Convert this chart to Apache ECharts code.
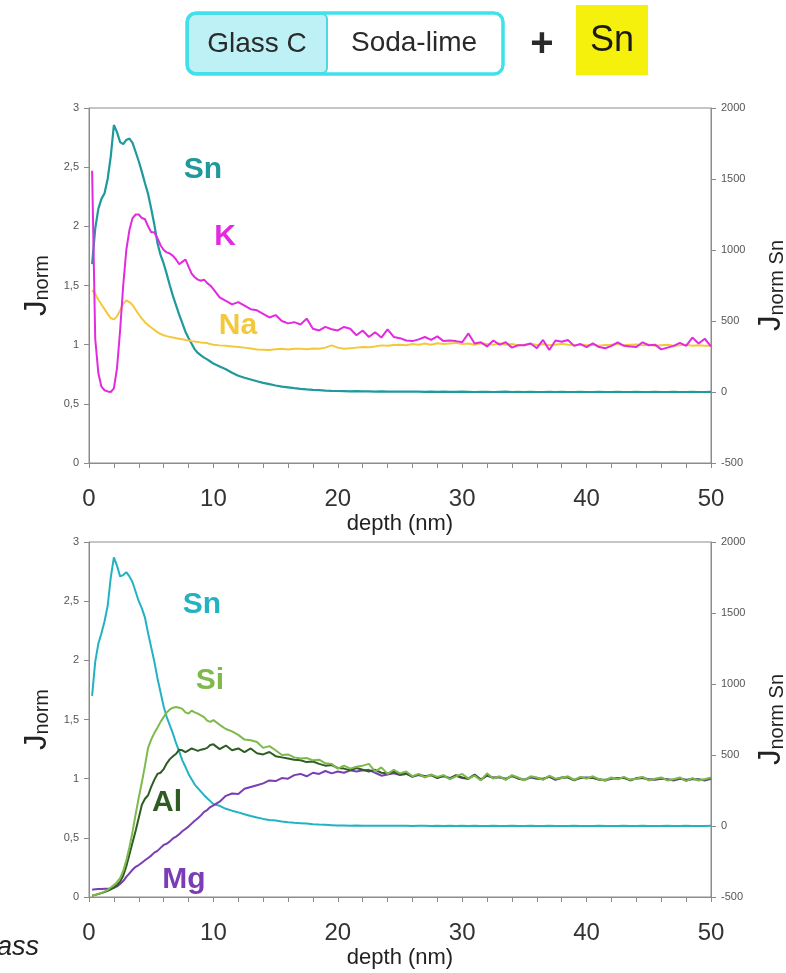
<!DOCTYPE html>
<html><head><meta charset="utf-8">
<script src="https://cdn.jsdelivr.net/npm/echarts@6/dist/echarts.min.js"></script>
<style>html,body{margin:0;padding:0;background:#fff;overflow:hidden}#c{width:786px;height:973px}</style>
</head><body><div id="c"></div>
<script>
// ---- data ----
const depth = [
0.25,0.5,0.75,1,1.25,1.5,1.75,2,2.25,2.5,
2.75,3,3.25,3.5,3.75,4,4.25,4.5,4.75,5,
5.25,5.5,5.75,6,6.25,6.5,6.75,7,7.25,7.5,
7.75,8,8.25,8.5,8.75,9,9.25,9.5,9.75,10,
10.5,11,11.5,12,12.5,13,13.5,14,14.5,15,
15.5,16,16.5,17,17.5,18,18.5,19,19.5,20,
20.5,21,21.5,22,22.5,23,23.5,24,24.5,25,
25.5,26,26.5,27,27.5,28,28.5,29,29.5,30,
30.5,31,31.5,32,32.5,33,33.5,34,34.5,35,
35.5,36,36.5,37,37.5,38,38.5,39,39.5,40,
40.5,41,41.5,42,42.5,43,43.5,44,44.5,45,
45.5,46,46.5,47,47.5,48,48.5,49,49.5,50];

// top panel (Soda-lime + Sn): Sn on right axis, K and Na on left axis
const snTop = [
900,1150,1290,1360,1400,1500,1660,1880,1830,1760,
1745,1775,1785,1755,1690,1625,1550,1470,1395,1290,
1180,1050,965,905,830,750,675,610,545,485,
425,380,340,300,275,258,242,230,215,200,
180,160,135,115,100,88,76,64,55,46,
38,33,27,22,18,15,13,10,8,7,
6,5,6,4,4,3,4,3,2,3,
2,2,3,1,2,1,2,1,1,2,
1,0,1,1,0,1,2,0,1,0,
1,0,0,1,0,1,0,0,1,0,
0,1,0,0,1,0,0,1,0,0,
1,0,0,1,0,0,1,0,0,1];
const kTop = [
2.47,1.05,0.76,0.645,0.615,0.605,0.60,0.63,0.80,1.12,
1.50,1.80,1.97,2.07,2.10,2.10,2.07,2.06,2.00,1.95,
1.95,1.90,1.84,1.80,1.78,1.77,1.75,1.72,1.68,1.70,
1.72,1.66,1.60,1.57,1.55,1.54,1.55,1.52,1.50,1.47,
1.40,1.37,1.34,1.36,1.33,1.30,1.29,1.26,1.23,1.25,
1.20,1.18,1.19,1.17,1.22,1.135,1.12,1.15,1.13,1.12,
1.15,1.135,1.08,1.12,1.065,1.105,1.06,1.13,1.065,1.055,
1.035,1.03,1.045,1.065,1.04,1.07,1.03,1.035,1.03,1.02,
1.095,1.01,1.02,0.985,1.035,1.0,1.02,0.975,0.995,0.995,
1.01,0.97,1.04,0.955,1.035,1.025,1.04,0.99,1.005,0.98,
1.01,0.98,0.97,0.99,1.02,0.99,0.985,0.98,1.02,0.995,
1.0,0.96,0.975,0.99,1.015,0.99,1.06,1.01,1.05,0.985];
const naTop = [
1.46,1.43,1.38,1.34,1.30,1.26,1.225,1.213,1.24,1.29,
1.345,1.374,1.36,1.335,1.295,1.255,1.22,1.19,1.165,1.145,
1.125,1.105,1.09,1.08,1.072,1.066,1.06,1.055,1.05,1.045,
1.04,1.036,1.03,1.026,1.022,1.018,1.016,1.014,1.005,1.0,
0.994,0.99,0.985,0.98,0.975,0.968,0.96,0.958,0.955,0.962,
0.966,0.96,0.965,0.966,0.962,0.968,0.966,0.975,0.994,0.975,
0.966,0.97,0.975,0.98,0.978,0.985,0.994,0.99,0.998,1.0,
0.995,1.005,1.0,1.01,1.0,1.012,1.005,1.01,1.015,1.005,
1.01,1.0,1.012,1.005,1.0,1.01,1.0,1.005,0.995,1.0,
1.008,0.998,1.005,0.995,1.0,1.008,1.0,0.995,1.002,0.995,
1.0,0.99,0.998,1.0,1.005,0.995,1.0,1.002,0.995,1.0,
0.99,0.995,1.0,0.99,0.995,1.0,0.99,0.995,0.99,0.99];

// bottom panel: Sn on right axis, Si, Al, Mg on left axis
const snBot = [
917,1158,1283,1358,1442,1550,1750,1892,1833,1758,
1767,1788,1758,1717,1650,1583,1533,1467,1358,1258,
1158,1042,942,842,767,708,650,583,525,462,
417,367,329,292,267,242,217,196,175,154,
142,121,108,96,83,71,60,50,43,38,
32,27,23,20,17,13,10,8,6,4,
3,2,3,2,1,2,1,1,2,1,
1,0,1,1,0,1,0,1,0,1,
0,1,0,0,1,0,0,1,0,0,
1,0,0,1,0,0,0,1,0,0,
0,1,0,0,0,1,0,0,1,0,
0,0,1,0,0,1,0,0,0,1];
const siBot = [
0.01,0.018,0.026,0.035,0.045,0.06,0.08,0.10,0.125,0.16,
0.22,0.31,0.42,0.55,0.70,0.84,0.97,1.11,1.26,1.33,
1.385,1.43,1.48,1.52,1.56,1.585,1.60,1.605,1.60,1.59,
1.56,1.55,1.575,1.56,1.55,1.535,1.52,1.49,1.48,1.495,
1.455,1.42,1.40,1.37,1.33,1.325,1.31,1.26,1.275,1.24,
1.20,1.205,1.18,1.17,1.175,1.155,1.16,1.13,1.125,1.085,
1.11,1.085,1.10,1.11,1.125,1.06,1.095,1.04,1.075,1.045,
1.06,1.02,1.04,1.01,1.035,1.015,1.03,0.995,1.02,1.04,
1.0,1.025,0.985,1.045,1.0,1.02,0.99,1.03,1.01,0.985,
1.02,1.01,0.99,1.025,1.0,1.005,1.02,0.99,1.015,1.0,
1.02,0.995,0.985,1.01,0.995,1.015,0.99,1.0,1.015,0.985,
1.0,1.01,0.985,0.995,1.01,0.98,1.005,0.985,0.995,1.01];
const alBot = [
0.01,0.018,0.025,0.033,0.042,0.052,0.065,0.08,0.10,0.13,
0.18,0.26,0.36,0.46,0.56,0.67,0.78,0.83,0.86,0.93,
0.99,1.04,1.05,1.08,1.13,1.165,1.19,1.21,1.245,1.24,
1.225,1.24,1.255,1.245,1.235,1.245,1.25,1.26,1.285,1.29,
1.25,1.28,1.24,1.255,1.225,1.255,1.215,1.205,1.225,1.19,
1.18,1.17,1.16,1.155,1.14,1.145,1.125,1.11,1.115,1.09,
1.085,1.07,1.09,1.075,1.06,1.075,1.05,1.045,1.06,1.035,
1.045,1.015,1.035,1.02,1.03,1.005,1.025,1.0,1.03,1.01,
1.0,1.035,0.99,1.03,1.005,1.015,0.995,1.025,1.0,0.99,
1.015,1.005,0.995,1.02,0.995,1.01,1.01,0.985,1.01,1.005,
1.01,0.99,0.99,1.005,1.0,1.01,0.985,1.005,1.01,0.99,
0.995,1.005,0.99,0.99,1.005,0.985,1.0,0.99,0.99,1.005];
const mgBot = [
0.062,0.065,0.067,0.068,0.07,0.07,0.072,0.078,0.09,0.11,
0.135,0.17,0.20,0.23,0.255,0.27,0.29,0.31,0.33,0.35,
0.375,0.39,0.415,0.44,0.45,0.47,0.495,0.51,0.53,0.555,
0.575,0.595,0.62,0.645,0.665,0.69,0.72,0.735,0.76,0.775,
0.805,0.855,0.875,0.87,0.915,0.93,0.945,0.96,0.985,0.98,
1.005,1.0,1.03,1.04,1.02,1.05,1.04,1.065,1.045,1.06,
1.05,1.07,1.06,1.07,1.075,1.05,1.025,1.035,1.045,1.03,
1.04,1.02,1.03,1.015,1.03,1.01,1.02,1.005,1.025,1.005,
1.0,1.03,0.995,1.025,1.01,1.01,1.0,1.02,1.005,0.99,
1.01,1.0,1.0,1.015,0.99,1.005,1.015,0.99,1.005,1.01,
1.005,0.995,0.985,1.0,1.005,1.005,0.99,1.0,1.005,0.995,
0.99,1.0,0.995,0.985,1.0,0.99,0.995,0.995,0.985,1.0];

const xLabelValues = [0,10,20,30,40,50];

// ---- styles ----
const FONT = 'Liberation Sans, Arial, sans-serif';
const AX = '#8c8c8c';
const C = {snTop:'#1f999c', k:'#e22be0', na:'#f3c93c', snBot:'#22b2c2', si:'#7db94b', al:'#2f5c22', mg:'#7a3db4'};

const pairs = arr => depth.map((d, i) => [d, arr[i]]);

function xAxis(gi) {
  return {
    type:'value', gridIndex:gi, min:0, max:50, interval:2,
    axisLine:{show:true, onZero:false, lineStyle:{color:AX, width:1}},
    axisTick:{show:true, length:5, lineStyle:{color:AX}},
    axisLabel:{fontSize:24, color:'#333', margin:24, fontFamily:FONT,
      formatter: v => xLabelValues.includes(v) ? String(v) : ''},
    splitLine:{show:false},
    name:'depth (nm)', nameLocation:'middle', nameGap:50,
    nameTextStyle:{fontSize:22, color:'#222', fontFamily:FONT}
  };
}
const nameRich = {
  j:{fontSize:31, lineHeight:36, verticalAlign:'bottom', color:'#222', fontFamily:FONT},
  s:{fontSize:20, lineHeight:14, verticalAlign:'bottom', color:'#222', fontFamily:FONT}
};
function yLeft(gi) {
  return {
    type:'value', gridIndex:gi, position:'left', min:0, max:3, interval:0.5,
    axisLine:{show:true, onZero:false, lineStyle:{color:AX}},
    axisTick:{show:true, length:5, lineStyle:{color:AX}},
    axisLabel:{fontSize:11, color:'#555', margin:10, fontFamily:FONT,
      formatter: v => String(v).replace('.', ',')},
    splitLine:{show:false},
    name:'{j|J}{s|norm}', nameLocation:'middle', nameRotate:90, nameGap:36,
    nameTextStyle:{rich:nameRich}
  };
}
function yRight(gi) {
  return {
    type:'value', gridIndex:gi, position:'right', min:-500, max:2000, interval:500,
    axisLine:{show:true, onZero:false, lineStyle:{color:AX}},
    axisTick:{show:true, length:5, lineStyle:{color:AX}},
    axisLabel:{fontSize:11, color:'#555', margin:10, fontFamily:FONT,
      formatter: v => String(v)},
    splitLine:{show:false},
    name:'{j|J}{s|norm Sn}', nameLocation:'middle', nameRotate:90, nameGap:31,
    nameTextStyle:{rich:nameRich}
  };
}
function line(name, arr, color, xi, yi, w) {
  return {type:'line', name, data:pairs(arr), xAxisIndex:xi, yAxisIndex:yi,
    showSymbol:false, symbol:'none', lineStyle:{color, width:w||2}, itemStyle:{color}, z:2};
}
function label(text, x, y, color) {
  return {type:'text', x, y, z:100, style:{text, fill:color, fontSize:30, fontWeight:'bold',
    fontFamily:FONT, align:'center', verticalAlign:'middle'}};
}

const chart = echarts.init(document.getElementById('c'), null, {renderer:'canvas', width:786, height:973});
chart.setOption({
  animation:false,
  backgroundColor:'#fff',
  grid:[
    {left:89, right:75, top:108, height:355, show:true, borderColor:AX, borderWidth:1, containLabel:false, outerBoundsMode:'none'},
    {left:89, right:75, top:542, height:355, show:true, borderColor:AX, borderWidth:1, containLabel:false, outerBoundsMode:'none'}
  ],
  xAxis:[xAxis(0), xAxis(1)],
  yAxis:[yLeft(0), yRight(0), yLeft(1), yRight(1)],
  series:[
    line('Sn', snTop, C.snTop, 0, 1, 2.2),
    line('Na', naTop, C.na, 0, 0, 2),
    line('K', kTop, C.k, 0, 0, 2),
    line('Sn ', snBot, C.snBot, 1, 3, 2),
    line('Mg', mgBot, C.mg, 1, 2, 2),
    line('Al', alBot, C.al, 1, 2, 2),
    line('Si', siBot, C.si, 1, 2, 2)
  ],
  graphic:[
    {type:'rect', z:90, shape:{x:187, y:13, width:316, height:61, r:9}, style:{fill:'#fff', stroke:'#3fe2ea', lineWidth:3}},
    {type:'rect', z:91, shape:{x:188, y:14, width:139, height:59, r:[8,5,5,8]}, style:{fill:'#bdf1f5', stroke:'#4ed9e1', lineWidth:2}},
    {type:'rect', z:92, shape:{x:187, y:13, width:316, height:61, r:9}, style:{fill:'none', stroke:'#3fe2ea', lineWidth:3}},
    {type:'text', z:100, x:257, y:44, style:{text:'Glass C', fontSize:28, fill:'#2a2a2a', fontFamily:FONT, align:'center', verticalAlign:'middle'}},
    {type:'text', z:100, x:414, y:43, style:{text:'Soda-lime', fontSize:28, fill:'#2a2a2a', fontFamily:FONT, align:'center', verticalAlign:'middle'}},
    {type:'text', z:100, x:542, y:45, style:{text:'+', fontSize:40, fontWeight:'bold', fill:'#2a2a2a', fontFamily:FONT, align:'center', verticalAlign:'middle'}},
    {type:'rect', z:90, shape:{x:576, y:5, width:72, height:70}, style:{fill:'#f6f10c'}},
    {type:'text', z:100, x:612, y:41, style:{text:'Sn', fontSize:36, fill:'#1a1a1a', fontFamily:FONT, align:'center', verticalAlign:'middle'}},
    label('Sn', 203, 170, C.snTop),
    label('K', 225, 237, C.k),
    label('Na', 238, 326, C.na),
    label('Sn', 202, 605, C.snBot),
    label('Si', 210, 681, C.si),
    label('Al', 167, 803, C.al),
    label('Mg', 184, 880, C.mg),
    {type:'text', z:100, x:-3, y:947, style:{text:'ass', fontSize:27, fontStyle:'italic', fill:'#222', fontFamily:FONT, align:'left', verticalAlign:'middle'}}
  ]
});
</script>
</body></html>
